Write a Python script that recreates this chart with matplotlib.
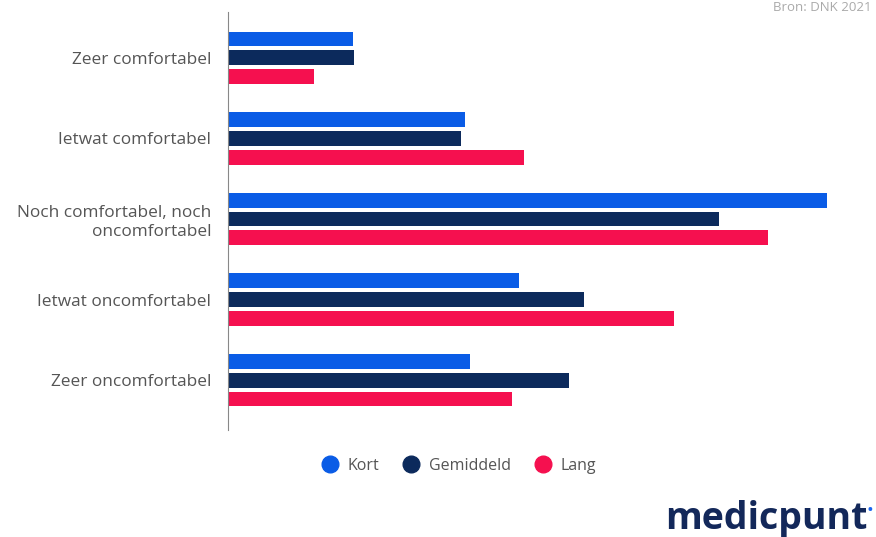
import numpy as np
import matplotlib.pyplot as plt
from matplotlib.lines import Line2D

categories = ["Zeer comfortabel", "Ietwat comfortabel", "Noch comfortabel, noch\noncomfortabel",
              "Ietwat oncomfortabel", "Zeer oncomfortabel"]
kort = [8.3, 15.8, 39.9, 19.4, 16.1]
gemiddeld = [8.4, 15.5, 32.7, 23.7, 22.7]
lang = [5.7, 19.7, 36.0, 29.7, 18.9]
series = ["Kort", "Gemiddeld", "Lang"]
colors = ["#0a5ce6", "#0c2a5c", "#f5104f"]

plt.rcParams['font.family'] = ['Open Sans', 'DejaVu Sans']

fig = plt.figure(figsize=(8.76, 5.37), dpi=100)
ax = fig.add_axes([228 / 876, 1 - 430 / 537, 620 / 876, 418 / 537])

y = np.arange(len(categories))
h = 0.185
step = 0.235
for i, (vals, c) in enumerate(zip([kort, gemiddeld, lang], colors)):
    ax.barh(y + (i - 1) * step, vals, height=h, color=c)

ax.set_yticks(y)
ax.set_yticklabels(categories, fontsize=12.4, color="#555555", linespacing=1.25)
ax.invert_yaxis()
ax.set_ylim(4.62, -0.57)
ax.set_xlim(0, 41.3)
ax.set_xticks([])
for s in ["top", "right", "bottom"]:
    ax.spines[s].set_visible(False)
ax.spines["left"].set_color("#888888")
ax.tick_params(axis="y", length=0, pad=12)

handles = [Line2D([], [], marker="o", linestyle="", markersize=12, color=c) for c in colors]
fig.legend(handles, series, loc="center", bbox_to_anchor=(455 / 876, 1 - 466 / 537), ncol=3,
           frameon=False, fontsize=11.5, labelcolor="#555555", handletextpad=0.1, columnspacing=1.0)

fig.text(0.995, 0.998, "Bron: DNK 2021", ha="right", va="top", fontsize=9.5, color="#aaaaaa")
fig.text(665 / 876, 1 - 519 / 537, "medicpunt", ha="left", va="center", fontsize=27,
         fontweight="bold", color="#13285a")
fig.text(866 / 876, 1 - 511 / 537, "•", ha="left", va="center", fontsize=13, color="#1a66f0")

fig.savefig("out.png", dpi=100)
